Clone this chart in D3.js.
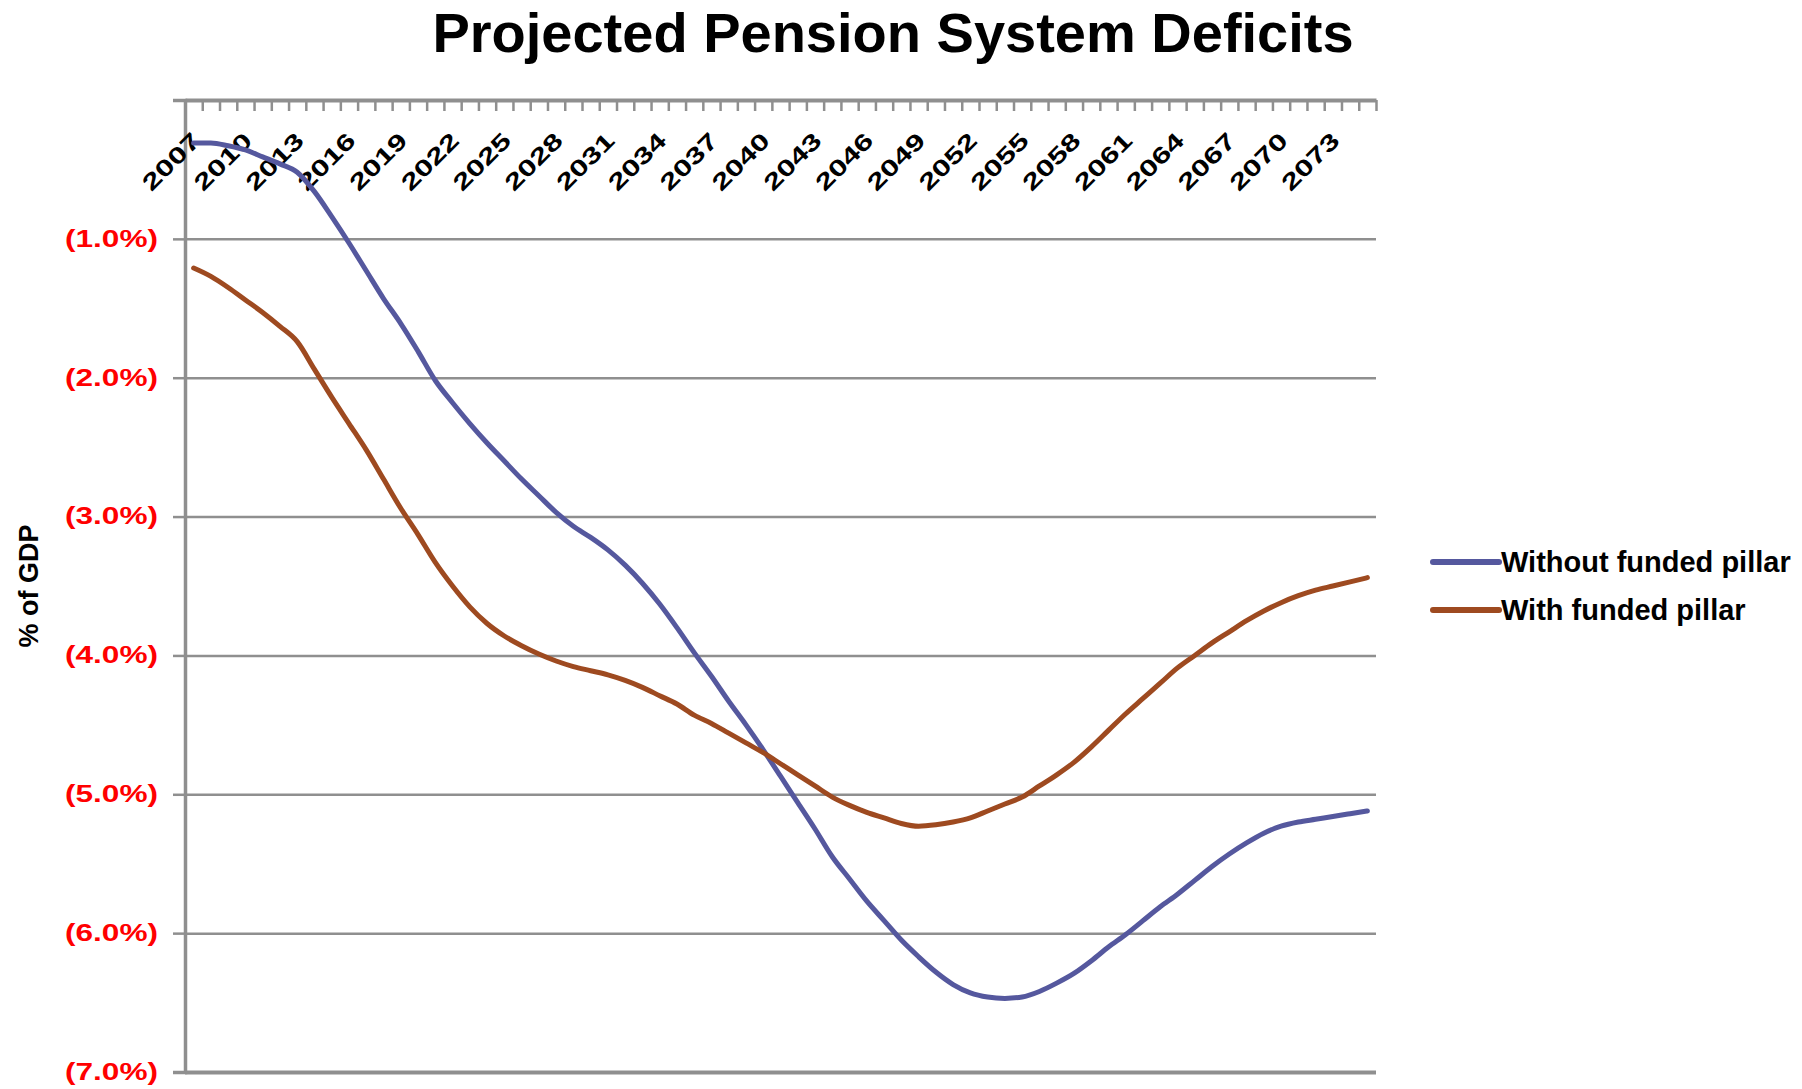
<!DOCTYPE html>
<html>
<head>
<meta charset="utf-8">
<script src="https://cdn.jsdelivr.net/npm/d3@7"></script>
<style>
  body { margin: 0; background: #fff; }
  svg { display: block; }
  text { font-family: "Liberation Sans", Arial, sans-serif; font-weight: bold; }
</style>
</head>
<body>
<svg id="chart" width="1802" height="1089"></svg>
<script>
// años del eje (una categoria por año)
const years = d3.range(2007, 2076);
const labelYears = years.filter((y, i) => i % 3 === 0);
const yTicks = [0, -1, -2, -3, -4, -5, -6, -7];

// % del PIB
const sinPilar = [
  -0.31, -0.31, -0.33, -0.36, -0.41, -0.46, -0.52, -0.66, -0.84, -1.03,
  -1.23, -1.43, -1.61, -1.81, -2.02, -2.18, -2.33, -2.47, -2.60, -2.73,
  -2.85, -2.97, -3.07, -3.15, -3.24, -3.35, -3.48, -3.63, -3.80, -3.98,
  -4.15, -4.33, -4.50, -4.68, -4.87, -5.06, -5.25, -5.45, -5.61, -5.77,
  -5.91, -6.05, -6.17, -6.28, -6.37, -6.43, -6.46, -6.47, -6.46, -6.42,
  -6.36, -6.29, -6.20, -6.10, -6.01, -5.91, -5.81, -5.72, -5.62, -5.52,
  -5.43, -5.35, -5.28, -5.23, -5.20, -5.18, -5.16, -5.14, -5.12
];
const conPilar = [
  -1.21, -1.27, -1.35, -1.44, -1.53, -1.63, -1.74, -1.94, -2.14, -2.33,
  -2.52, -2.73, -2.94, -3.13, -3.33, -3.50, -3.65, -3.77, -3.86, -3.93,
  -3.99, -4.04, -4.08, -4.11, -4.14, -4.18, -4.23, -4.29, -4.35, -4.43,
  -4.49, -4.56, -4.63, -4.70, -4.78, -4.86, -4.94, -5.02, -5.08, -5.13,
  -5.17, -5.21, -5.23, -5.22, -5.20, -5.17, -5.12, -5.07, -5.02, -4.94,
  -4.86, -4.77, -4.66, -4.54, -4.42, -4.31, -4.20, -4.09, -4.00, -3.91,
  -3.83, -3.75, -3.68, -3.62, -3.57, -3.53, -3.50, -3.47, -3.44
];

const series = [
  { name: "Without funded pillar", values: sinPilar, color: "#55589e" },
  { name: "With funded pillar",    values: conPilar, color: "#9e4a20" }
];

const svg = d3.select('#chart');
const izq = 185, der = 1376, arriba = 100, abajo = 1072;
const gris = '#8f8f8f';

const x = d3.scaleBand().domain(years).range([izq, der]).padding(0);
const xBorde = d3.scaleLinear().domain([0, years.length]).range([izq, der]);
const y = d3.scaleLinear().domain([0, -7]).range([arriba, abajo]);

// titulo
svg.append('text')
  .attr('x', 893).attr('y', 52)
  .attr('text-anchor', 'middle')
  .style('font-size', '56px')
  .text('Projected Pension System Deficits');

// lineas de la cuadricula
const grid = svg.append('g')
  .attr('transform', `translate(${izq},0)`)
  .call(d3.axisLeft(y).tickValues(yTicks.slice(1)).tickSize(-(der - izq)).tickFormat(''));
grid.select('.domain').remove();
grid.selectAll('line').attr('stroke', gris).attr('stroke-width', 2.5);
grid.selectAll('.tick').filter(d => d === -7).select('line').attr('stroke-width', 4);

// eje y con etiquetas rojas
const ejeY = svg.append('g')
  .attr('transform', `translate(${izq},0)`)
  .call(d3.axisLeft(y).tickValues(yTicks).tickSize(12).tickPadding(15)
    .tickFormat(d => d === 0 ? '' : '(' + Math.abs(d).toFixed(1) + '%)'));
ejeY.select('.domain').attr('stroke', gris).attr('stroke-width', 3.5);
ejeY.selectAll('line').attr('stroke', gris).attr('stroke-width', 2.5);
ejeY.selectAll('text')
  .attr('fill', '#ff0000')
  .style('font-size', '23px')
  .attr('textLength', 93)
  .attr('lengthAdjust', 'spacingAndGlyphs');

// eje x arriba: marcas en los bordes de cada año
const marcas = svg.append('g')
  .attr('transform', `translate(0,${arriba})`)
  .call(d3.axisBottom(xBorde).tickValues(d3.range(0, years.length + 1)).tickSize(11).tickSizeOuter(0).tickFormat(''));
marcas.select('.domain').attr('stroke', gris).attr('stroke-width', 4);
marcas.selectAll('line').attr('stroke', gris).attr('stroke-width', 2.5);

// etiquetas de años giradas
const ejeX = svg.append('g')
  .attr('transform', `translate(0,${arriba})`)
  .call(d3.axisBottom(x).tickValues(labelYears).tickSize(0));
ejeX.select('.domain').remove();
ejeX.selectAll('text')
  .attr('fill', '#000')
  .style('font-size', '23px')
  .attr('textLength', 71)
  .attr('lengthAdjust', 'spacingAndGlyphs')
  .attr('text-anchor', 'end')
  .attr('dy', null)
  .attr('transform', 'translate(6,40) rotate(-45)');

// lineas de las series
const linea = d3.line()
  .x((d, i) => x(years[i]) + x.bandwidth() / 2)
  .y(d => y(d))
  .curve(d3.curveMonotoneX);

svg.selectAll('path.serie')
  .data(series)
  .join('path')
  .attr('class', 'serie')
  .attr('fill', 'none')
  .attr('stroke', d => d.color)
  .attr('stroke-width', 5)
  .attr('stroke-linejoin', 'round')
  .attr('stroke-linecap', 'round')
  .attr('d', d => linea(d.values));

// titulo del eje y
svg.append('text')
  .attr('transform', 'translate(29,586) rotate(-90)')
  .attr('text-anchor', 'middle')
  .attr('dy', '0.35em')
  .style('font-size', '27px')
  .text('% of GDP');

// leyenda
const leyenda = svg.append('g')
  .selectAll('g')
  .data(series)
  .join('g')
  .attr('transform', (d, i) => `translate(1433,${562 + i * 48})`);
leyenda.append('line')
  .attr('x1', 0).attr('x2', 66)
  .attr('stroke', d => d.color)
  .attr('stroke-width', 6)
  .attr('stroke-linecap', 'round');
leyenda.append('text')
  .attr('x', 68).attr('dy', '0.36em')
  .style('font-size', '29px')
  .text(d => d.name);
</script>
</body>
</html>
